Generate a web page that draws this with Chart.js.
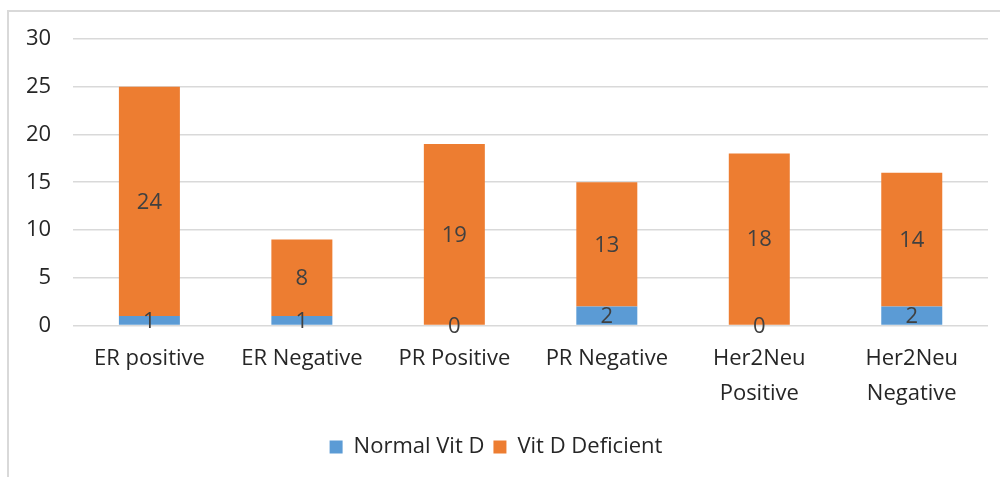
<!DOCTYPE html>
<html>
<head>
<meta charset="utf-8">
<script src="https://cdn.jsdelivr.net/npm/chart.js@4"></script>
<style>
  html, body { margin: 0; padding: 0; background: #fff; }
  #wrap { position: absolute; left: 0; top: 0; width: 1000px; height: 477px; }
  #frame { position: absolute; left: 7px; top: 10px; width: 993px; height: 467px;
    border-left: 2px solid #d9d9d9; border-top: 2px solid #d9d9d9; box-sizing: border-box; }
  canvas { position: absolute; left: 0; top: 0; }
</style>
</head>
<body>
<div id="wrap">
  <div id="frame"></div>
  <canvas id="chart" width="1000" height="477"></canvas>
</div>
<script>
const categories = ['ER positive', 'ER Negative', 'PR Positive', 'PR Negative',
  ['Her2Neu', 'Positive'], ['Her2Neu', 'Negative']]
const normalVitD = [1, 1, 0, 2, 0, 2]
const vitDDeficient = [24, 8, 19, 13, 18, 14]
const yTicks = [0, 5, 10, 15, 20, 25, 30]

const FONT = 'Open Sans'

// draw the value in the middle of each bar segment
const barLabels = {
  id: 'barLabels',
  afterDatasetsDraw(chart) {
    const ctx = chart.ctx
    ctx.save()
    ctx.font = '22px "' + FONT + '"'
    ctx.fillStyle = '#404040'
    ctx.textAlign = 'center'
    ctx.textBaseline = 'middle'
    chart.data.datasets.forEach((ds, i) => {
      chart.getDatasetMeta(i).data.forEach((bar, j) => {
        const p = bar.getProps(['x', 'y', 'base'], true)
        ctx.fillText(String(ds.data[j]), p.x, (p.y + p.base) / 2 + 1)
      })
    })
    ctx.restore()
  }
}

new Chart(document.getElementById('chart'), {
  type: 'bar',
  data: {
    labels: categories,
    datasets: [
      { label: 'Normal Vit D', data: normalVitD, backgroundColor: '#5b9bd5' },
      { label: 'Vit D Deficient', data: vitDDeficient, backgroundColor: '#ed7d31' }
    ]
  },
  options: {
    responsive: false,
    animation: false,
    layout: { padding: { left: 4, right: 12, top: 39, bottom: 9 } },
    datasets: { bar: { barPercentage: 0.4, categoryPercentage: 1 } },
    plugins: {
      legend: {
        position: 'bottom',
        labels: {
          color: '#262626',
          font: { family: FONT, size: 22 },
          boxWidth: 13, boxHeight: 13, padding: 9
        }
      },
      tooltip: { enabled: false }
    },
    scales: {
      x: {
        stacked: true,
        grid: { display: false },
        border: { display: false },
        afterFit(axis) { axis.height += 8 },
        ticks: { color: '#262626', font: { family: FONT, size: 22, lineHeight: 1.58 }, padding: 8, maxRotation: 0 }
      },
      y: {
        stacked: true,
        min: 0, max: 30,
        afterBuildTicks(axis) { axis.ticks = yTicks.map(v => ({ value: v })) },
        grid: { color: '#d9d9d9', lineWidth: 1.5, drawTicks: false },
        border: { display: false },
        ticks: { color: '#262626', font: { family: FONT, size: 22 }, padding: 22 }
      }
    }
  },
  plugins: [barLabels]
})
</script>
</body>
</html>
